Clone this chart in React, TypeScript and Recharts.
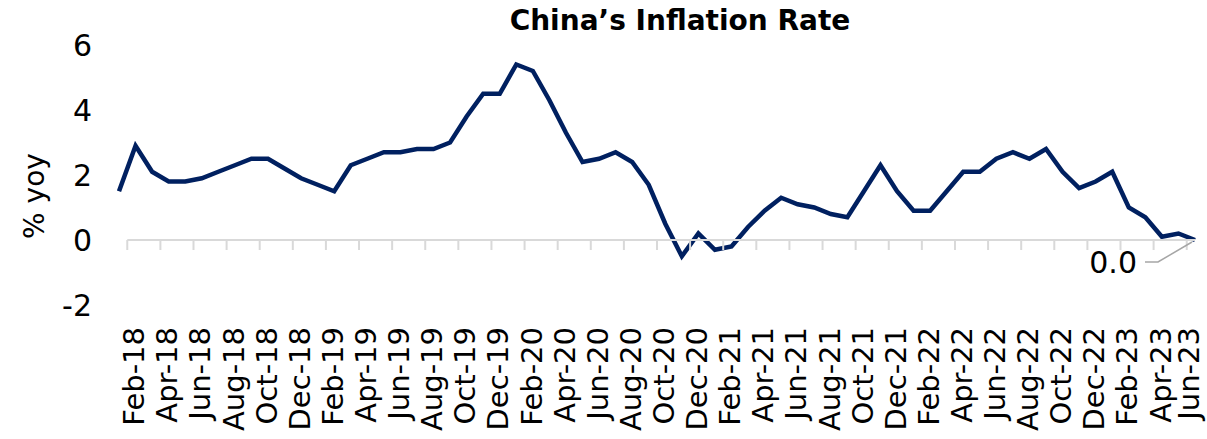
import React from "react";
import { LineChart, Line, XAxis, YAxis, LabelList } from "recharts";

const months = [
  "Jan-18", "Feb-18", "Mar-18", "Apr-18", "May-18", "Jun-18", "Jul-18", "Aug-18", "Sep-18", "Oct-18", "Nov-18", "Dec-18",
  "Jan-19", "Feb-19", "Mar-19", "Apr-19", "May-19", "Jun-19", "Jul-19", "Aug-19", "Sep-19", "Oct-19", "Nov-19", "Dec-19",
  "Jan-20", "Feb-20", "Mar-20", "Apr-20", "May-20", "Jun-20", "Jul-20", "Aug-20", "Sep-20", "Oct-20", "Nov-20", "Dec-20",
  "Jan-21", "Feb-21", "Mar-21", "Apr-21", "May-21", "Jun-21", "Jul-21", "Aug-21", "Sep-21", "Oct-21", "Nov-21", "Dec-21",
  "Jan-22", "Feb-22", "Mar-22", "Apr-22", "May-22", "Jun-22", "Jul-22", "Aug-22", "Sep-22", "Oct-22", "Nov-22", "Dec-22",
  "Jan-23", "Feb-23", "Mar-23", "Apr-23", "May-23", "Jun-23",
];

const cpiYoy = [
  1.5, 2.9, 2.1, 1.8, 1.8, 1.9, 2.1, 2.3, 2.5, 2.5, 2.2, 1.9,
  1.7, 1.5, 2.3, 2.5, 2.7, 2.7, 2.8, 2.8, 3.0, 3.8, 4.5, 4.5,
  5.4, 5.2, 4.3, 3.3, 2.4, 2.5, 2.7, 2.4, 1.7, 0.5, -0.5, 0.2,
  -0.3, -0.2, 0.4, 0.9, 1.3, 1.1, 1.0, 0.8, 0.7, 1.5, 2.3, 1.5,
  0.9, 0.9, 1.5, 2.1, 2.1, 2.5, 2.7, 2.5, 2.8, 2.1, 1.6, 1.8,
  2.1, 1.0, 0.7, 0.1, 0.2, 0.0,
];

// every other month starting Feb-18
const tickLabels = months.filter((_, i) => i % 2 === 1);
const yTicks = [-2, 0, 2, 4, 6];

const data = months.map((m, i) => ({ month: m, cpi: cpiYoy[i] }));

const FONT = "'DejaVu Sans', sans-serif";
const W = 1207;
const H = 439;
const PLOT_LEFT = 119;
const PLOT_RIGHT = 1195;
const PLOT_TOP = 45;
const PLOT_BOTTOM = 305;
const Y_MIN = -2;
const Y_MAX = 6;
const STEP = (PLOT_RIGHT - PLOT_LEFT) / (months.length - 1);
const ZERO_Y = PLOT_TOP + ((PLOT_BOTTOM - PLOT_TOP) * Y_MAX) / (Y_MAX - Y_MIN);

function MonthTick(props: any) {
  const { x, y, payload, index } = props;
  const tx = x - STEP / 2;
  // keep the last label inside the right edge
  const isLast = index === tickLabels.length - 1;
  return (
    <g>
      {index === 0 && (
        <line x1={tx} x2={PLOT_RIGHT} y1={ZERO_Y} y2={ZERO_Y} stroke="#d9d9d9" strokeWidth={2} />
      )}
      <line x1={tx} x2={tx} y1={ZERO_Y} y2={ZERO_Y + 10} stroke="#d9d9d9" strokeWidth={2} />
      <text
        transform={`translate(${x},${y + 22}) rotate(-90)`}
        textAnchor="end"
        dy={isLast ? "0.14em" : "0.3em"}
        fontFamily={FONT}
        fontSize={29}
        fill="#000"
      >
        {payload.value}
      </text>
    </g>
  );
}

function LastLabel(props: any) {
  const { x, y, value, index } = props;
  if (index !== months.length - 1) return null;
  return (
    <g>
      <polyline
        points={`${x - 3},${y + 2} ${x - 37},${y + 22} ${x - 50},${y + 22}`}
        fill="none"
        stroke="#a6a6a6"
        strokeWidth={1.5}
      />
      <text x={x - 58} y={y + 22} dy="0.36em" textAnchor="end" fontFamily={FONT} fontSize={30} fill="#000">
        {Number(value).toFixed(1)}
      </text>
    </g>
  );
}

export default function App() {
  return (
    <div style={{ position: "absolute", left: 0, top: 0, width: W, height: H, background: "#fff" }}>
      <div
        style={{
          position: "absolute",
          left: 0,
          top: 3,
          width: 1360,
          textAlign: "center",
          fontFamily: FONT,
          fontWeight: 700,
          fontSize: 28,
          lineHeight: "36px",
          color: "#000",
        }}
      >
        China’s Inflation Rate
      </div>
      <LineChart
        width={W}
        height={H}
        data={data}
        margin={{ top: PLOT_TOP, right: W - PLOT_RIGHT, bottom: 0, left: 0 }}
      >
        <XAxis
          dataKey="month"
          ticks={tickLabels}
          interval={0}
          axisLine={false}
          tickLine={false}
          tickSize={0}
          tickMargin={0}
          height={H - PLOT_BOTTOM}
          tick={<MonthTick />}
        />
        <YAxis
          domain={[Y_MIN, Y_MAX]}
          ticks={yTicks}
          width={PLOT_LEFT}
          axisLine={false}
          tickLine={false}
          tickSize={0}
          tickMargin={27}
          tick={{ fontFamily: FONT, fontSize: 30, fill: "#000" }}
          label={{
            content: () => (
              <text
                transform="translate(44,196) rotate(-90)"
                textAnchor="middle"
                fontFamily={FONT}
                fontSize={28}
                fill="#000"
              >
                % yoy
              </text>
            ),
          }}
        />
        <Line
          type="linear"
          dataKey="cpi"
          stroke="#002060"
          strokeWidth={4.5}
          dot={false}
          activeDot={false}
          isAnimationActive={false}
        >
          <LabelList dataKey="cpi" content={<LastLabel />} />
        </Line>
      </LineChart>
    </div>
  );
}
